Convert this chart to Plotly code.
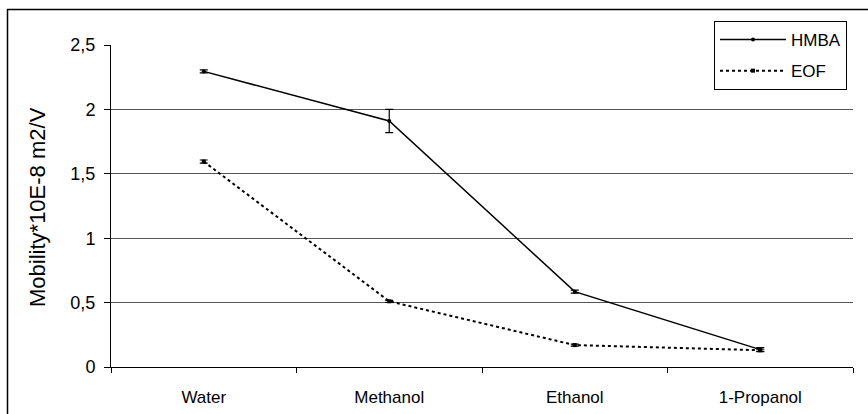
import plotly.graph_objects as go

categories = ["Water", "Methanol", "Ethanol", "1-Propanol"]
hmba = [2.295, 1.91, 0.585, 0.135]
hmba_err = [0.012, 0.09, 0.012, 0.015]
eof = [1.595, 0.51, 0.17, 0.13]
eof_err = [0.012, 0.008, 0.008, 0.008]

W, H = 868, 414
L, R, T, B = 111, 15, 45, 47
pw, ph = W - L - R, H - T - B

def px_x(x):
    return (x - L) / pw

def px_y(y):
    return 1 - (y - T) / ph

fig = go.Figure()
fig.add_trace(go.Scatter(
    x=categories, y=hmba, name="HMBA", mode="lines+markers",
    line=dict(color="black", width=1.5),
    marker=dict(symbol="circle", size=4, color="black"),
    error_y=dict(type="data", array=hmba_err, color="black", thickness=1.2, width=4),
    legendgroup="a",
))
fig.add_trace(go.Scatter(
    x=categories, y=eof, name="EOF", mode="lines+markers",
    line=dict(color="black", width=2, dash="dot"),
    marker=dict(symbol="square", size=4, color="black"),
    error_y=dict(type="data", array=eof_err, color="black", thickness=1.2, width=4),
    legendgroup="b",
))

fig.update_layout(
    width=W, height=H,
    margin=dict(l=L, r=R, t=T, b=B),
    paper_bgcolor="white", plot_bgcolor="white",
    separators=", ",
    font=dict(family="Liberation Sans, Arial, sans-serif", size=18, color="black"),
    showlegend=True,
    legend=dict(
        x=px_x(714), y=px_y(21), xanchor="left", yanchor="top",
        bordercolor="black", borderwidth=1, bgcolor="white",
        font=dict(size=17), tracegroupgap=6, itemwidth=66,
    ),
    xaxis=dict(
        range=[-0.5, 3.5], automargin=False,
        showline=True, linecolor="black", linewidth=1,
        ticks="outside", ticklen=5, tickcolor="black", tickson="boundaries",
        showgrid=False, ticklabelstandoff=15,
        tickfont=dict(size=17),
    ),
    yaxis=dict(
        range=[0, 2.5], dtick=0.5, tick0=0, automargin=False,
        showline=True, linecolor="black", linewidth=1,
        ticks="outside", ticklen=6, tickcolor="black",
        showgrid=True, gridcolor="#555555", gridwidth=1,
        zeroline=False, tickfont=dict(size=18), ticklabelstandoff=5,
    ),
    annotations=[dict(
        text="Mobility*10E-8 m2/V", xref="paper", yref="paper",
        x=px_x(38), y=px_y(207), xanchor="center", yanchor="middle",
        textangle=-90, showarrow=False, font=dict(size=22),
    )],
    shapes=[dict(
        type="rect", xref="paper", yref="paper",
        x0=px_x(7.5), x1=px_x(900), y0=px_y(9.5), y1=px_y(450),
        line=dict(color="black", width=1.5), layer="below",
    )],
)

fig.write_html("out.html")
